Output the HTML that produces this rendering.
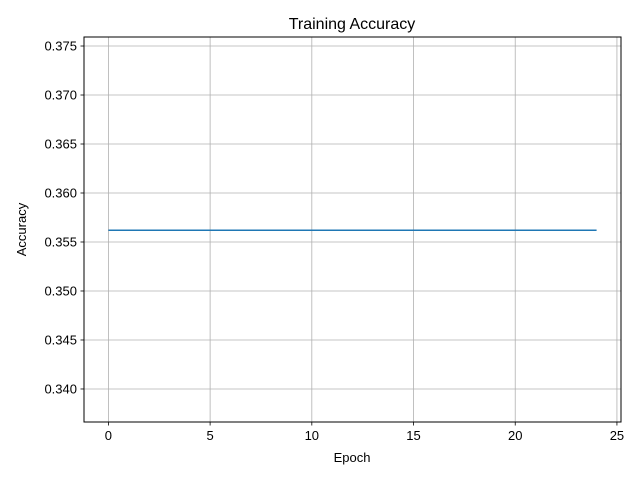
<!DOCTYPE html>
<html><head><meta charset="utf-8"><style>
body{margin:0;background:#fff;font-family:"Liberation Sans","DejaVu Sans",sans-serif;}
</style></head><body>
<svg id="chart" width="640" height="480" xmlns="http://www.w3.org/2000/svg">
<rect width="640" height="480" fill="#fff"/>
<text x="352" y="29" text-anchor="middle" font-size="16">Training Accuracy</text>
<g id="grid"></g>
<g id="ticks"></g>
<g id="series"></g>
<rect x="84" y="37" width="537" height="385" fill="none" stroke="#000" stroke-width="1"/>
<text x="352" y="462" text-anchor="middle" font-size="13">Epoch</text>
<text transform="translate(26,229.5) rotate(-90)" text-anchor="middle" font-size="13">Accuracy</text>
</svg>
<script>
const epochs = [0,1,2,3,4,5,6,7,8,9,10,11,12,13,14,15,16,17,18,19,20,21,22,23,24];
const accuracy = [0.3562,0.3562,0.3562,0.3562,0.3562,0.3562,0.3562,0.3562,0.3562,0.3562,0.3562,0.3562,0.3562,0.3562,0.3562,0.3562,0.3562,0.3562,0.3562,0.3562,0.3562,0.3562,0.3562,0.3562,0.3562];
const xTicks = [0,5,10,15,20,25];
const yTicks = [0.340,0.345,0.350,0.355,0.360,0.365,0.370,0.375];
const L=84,R=621,T=37,B=422;
const xmin=-1.2,xmax=25.2,ymin=0.33663,ymax=0.37592;
const xs=v=>L+(v-xmin)/(xmax-xmin)*(R-L);
const ys=v=>B-(v-ymin)/(ymax-ymin)*(B-T);
const NS="http://www.w3.org/2000/svg";
const grid=document.getElementById('grid'),ticks=document.getElementById('ticks'),series=document.getElementById('series');
function mk(t,a,p){const e=document.createElementNS(NS,t);for(const k in a)e.setAttribute(k,a[k]);p.appendChild(e);return e;}
xTicks.forEach(v=>{const x=xs(v);
 const g=mk('line',{x1:x,x2:x,y1:T,y2:B,stroke:'#b0b0b0','stroke-width':0.8},grid);
 
 
 const t=mk('line',{x1:x,x2:x,y1:B,y2:B+3.5,stroke:'#000','stroke-width':0.8},ticks);
 
 
 const l=mk('text',{x:x,y:B+18,'text-anchor':'middle','font-size':13},ticks);l.textContent=v;
 
 
});
yTicks.forEach(v=>{const y=ys(v);
 const g=mk('line',{x1:L,x2:R,y1:y,y2:y,stroke:'#b0b0b0','stroke-width':0.8},grid);
 
 
 const t=mk('line',{x1:L-3.5,x2:L,y1:y,y2:y,stroke:'#000','stroke-width':0.8},ticks);
 
 
 const l=mk('text',{x:L-7,y:y+4.5,'text-anchor':'end','font-size':13},ticks);l.textContent=v.toFixed(3);
 
 
});
const pl=mk('polyline',{points:epochs.map((e,i)=>xs(e)+','+ys(accuracy[i])).join(' '),fill:'none',stroke:'#1f77b4','stroke-width':1.5},series);


</script>
</body></html>
